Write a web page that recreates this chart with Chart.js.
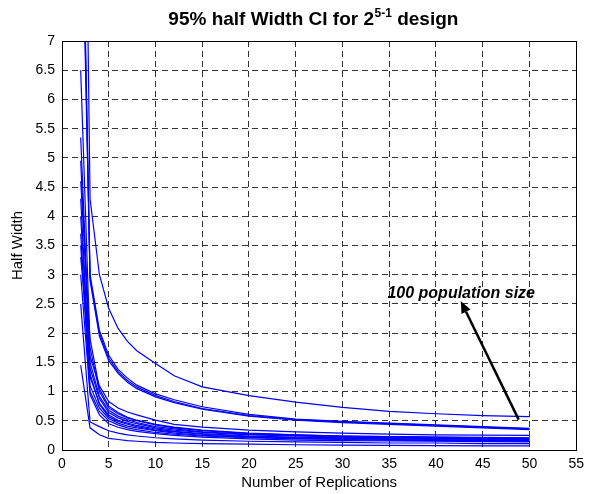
<!DOCTYPE html>
<html>
<head>
<meta charset="utf-8">
<script src="https://cdn.jsdelivr.net/npm/chart.js@4.4.0/dist/chart.umd.min.js"></script>
<style>
  html, body { margin: 0; padding: 0; background: #fff; }
  #wrap { width: 590px; height: 494px; }
</style>
</head>
<body>
<div id="wrap"><canvas id="hwChart" width="590" height="494"></canvas></div>
<script>
// Replication counts at which the half width was recorded
const replications = [2, 3, 4, 5, 6, 7, 8, 10, 12, 15, 20, 25, 30, 35, 40, 45, 50];

// 95% CI half width, one array per design point (16 runs of the 2^(5-1) design)
const run01 = [17.0, 4.30, 3.00, 2.42, 2.08, 1.86, 1.70, 1.48, 1.27, 1.08, 0.93, 0.82, 0.73, 0.66, 0.62, 0.59, 0.57];
const run02 = [10.8, 3.00, 2.05, 1.62, 1.38, 1.23, 1.11, 0.96, 0.86, 0.74, 0.61, 0.53, 0.49, 0.46, 0.43, 0.40, 0.37];
const run03 = [11.3, 2.95, 2.00, 1.57, 1.34, 1.19, 1.08, 0.93, 0.83, 0.71, 0.59, 0.52, 0.48, 0.45, 0.42, 0.39, 0.36];
const run04 = [10.4, 2.90, 1.95, 1.53, 1.31, 1.16, 1.05, 0.91, 0.81, 0.70, 0.58, 0.51, 0.47, 0.44, 0.41, 0.38, 0.35];
const run05 = [3.30, 1.60, 1.10, 0.83, 0.72, 0.65, 0.60, 0.51, 0.44, 0.39, 0.34, 0.31, 0.29, 0.27, 0.26, 0.255, 0.25];
const run06 = [6.50, 1.75, 1.00, 0.72, 0.62, 0.55, 0.50, 0.43, 0.38, 0.33, 0.28, 0.26, 0.24, 0.23, 0.22, 0.215, 0.21];
const run07 = [5.35, 1.50, 0.92, 0.68, 0.58, 0.52, 0.47, 0.40, 0.36, 0.31, 0.27, 0.25, 0.23, 0.22, 0.21, 0.20, 0.20];
const run08 = [4.95, 1.40, 0.88, 0.64, 0.55, 0.49, 0.45, 0.38, 0.34, 0.30, 0.26, 0.24, 0.22, 0.21, 0.20, 0.19, 0.19];
const run09 = [4.60, 1.90, 1.05, 0.75, 0.64, 0.56, 0.51, 0.44, 0.39, 0.34, 0.29, 0.26, 0.24, 0.23, 0.22, 0.21, 0.20];
const run10 = [4.30, 1.25, 0.80, 0.60, 0.51, 0.46, 0.42, 0.36, 0.32, 0.28, 0.24, 0.22, 0.21, 0.20, 0.19, 0.18, 0.18];
const run11 = [4.00, 1.30, 0.78, 0.57, 0.49, 0.44, 0.40, 0.34, 0.31, 0.27, 0.23, 0.21, 0.20, 0.19, 0.18, 0.17, 0.17];
const run12 = [3.70, 1.10, 0.72, 0.54, 0.46, 0.41, 0.38, 0.33, 0.29, 0.25, 0.22, 0.20, 0.19, 0.18, 0.17, 0.165, 0.16];
const run13 = [3.50, 1.00, 0.66, 0.50, 0.43, 0.38, 0.35, 0.30, 0.27, 0.24, 0.21, 0.19, 0.18, 0.17, 0.16, 0.155, 0.15];
const run14 = [3.00, 0.95, 0.60, 0.45, 0.39, 0.35, 0.32, 0.28, 0.25, 0.22, 0.19, 0.17, 0.16, 0.155, 0.15, 0.145, 0.14];
const run15 = [2.50, 0.48, 0.40, 0.33, 0.29, 0.26, 0.24, 0.21, 0.19, 0.17, 0.15, 0.14, 0.13, 0.12, 0.12, 0.11, 0.11];
const run16 = [1.45, 0.38, 0.26, 0.20, 0.18, 0.16, 0.15, 0.13, 0.12, 0.11, 0.10, 0.09, 0.085, 0.08, 0.075, 0.07, 0.07];

const runs = [run01, run02, run03, run04, run05, run06, run07, run08,
              run09, run10, run11, run12, run13, run14, run15, run16];

// axis limits / tick steps
const xMin = 0, xMax = 55, xStep = 5;
const yMin = 0, yMax = 7, yStep = 0.5;

// annotation (data coordinates)
const noteText = '100 population size';
const noteAt = { x: 42.7, y: 2.68 };
const arrowFrom = { x: 48.85, y: 0.52 };
const arrowTo = { x: 42.65, y: 2.55 };

const fontFamily = "'Liberation Sans', Arial, Helvetica, sans-serif";

const datasets = runs.map((run, i) => ({
    label: 'Run ' + (i + 1),
    data: run.map((v, j) => ({ x: replications[j], y: v })),
    borderColor: '#0000ff',
    backgroundColor: '#0000ff',
    borderWidth: 1.2,
    pointRadius: 0,
    tension: 0,
    fill: false
}));

// box around the axes, title with superscript, arrow note
const matlabDecor = {
    id: 'matlabDecor',
    afterDraw(chart) {
        const { ctx, chartArea: a, scales: { x, y } } = chart;
        ctx.save();

        // axes box
        ctx.strokeStyle = '#000';
        ctx.lineWidth = 1;
        ctx.strokeRect(Math.round(a.left) + 0.5, Math.round(a.top) + 0.5,
            Math.round(a.right - a.left), Math.round(a.bottom - a.top));

        // arrow
        const x0 = x.getPixelForValue(arrowFrom.x), y0 = y.getPixelForValue(arrowFrom.y);
        const x1 = x.getPixelForValue(arrowTo.x), y1 = y.getPixelForValue(arrowTo.y);
        const ang = Math.atan2(y1 - y0, x1 - x0);
        const headLen = 12, headW = 5;
        const bx = x1 - headLen * Math.cos(ang), by = y1 - headLen * Math.sin(ang);
        ctx.strokeStyle = '#000';
        ctx.fillStyle = '#000';
        ctx.lineWidth = 2.5;
        ctx.beginPath();
        ctx.moveTo(x0, y0);
        ctx.lineTo(bx, by);
        ctx.stroke();
        ctx.beginPath();
        ctx.moveTo(x1, y1);
        ctx.lineTo(bx + headW * Math.sin(ang), by - headW * Math.cos(ang));
        ctx.lineTo(bx - headW * Math.sin(ang), by + headW * Math.cos(ang));
        ctx.closePath();
        ctx.fill();

        // note text
        ctx.font = 'italic bold 16px ' + fontFamily;
        ctx.textAlign = 'center';
        ctx.textBaseline = 'middle';
        ctx.fillText(noteText, x.getPixelForValue(noteAt.x), y.getPixelForValue(noteAt.y));

        // title: 95% half Width CI for 2^(5-1) design
        const partA = '95% half Width CI for 2', sup = '5-1', partB = ' design';
        const mainFont = 'bold 19px ' + fontFamily, supFont = 'bold 12px ' + fontFamily;
        ctx.font = mainFont;
        const wA = ctx.measureText(partA).width, wB = ctx.measureText(partB).width;
        ctx.font = supFont;
        const wS = ctx.measureText(sup).width;
        let tx = (a.left + a.right) / 2 - (wA + wS + wB) / 2 - 6;
        const ty = 20;
        ctx.textAlign = 'left';
        ctx.textBaseline = 'middle';
        ctx.font = mainFont;
        ctx.fillText(partA, tx, ty);
        tx += wA;
        ctx.font = supFont;
        ctx.fillText(sup, tx + 0.5, ty - 6);
        tx += wS + 0.5;
        ctx.font = mainFont;
        ctx.fillText(partB, tx, ty);

        ctx.restore();
    }
};

const ctx = document.getElementById('hwChart').getContext('2d');
new Chart(ctx, {
    type: 'line',
    data: { datasets: datasets },
    options: {
        responsive: false,
        animation: false,
        layout: { padding: { top: 41, right: 10, left: 0, bottom: 0 } },
        plugins: {
            legend: { display: false },
            tooltip: { enabled: false },
            title: { display: false }
        },
        scales: {
            x: {
                type: 'linear',
                min: xMin,
                max: xMax,
                afterFit: s => { s.height = 44; },
                ticks: {
                    stepSize: xStep,
                    color: '#000',
                    padding: 6,
                    maxRotation: 0,
                    font: { size: 14, family: fontFamily }
                },
                grid: { color: '#333', lineWidth: 1, drawTicks: false },
                border: { display: false, dash: [6, 4] },
                title: {
                    display: true,
                    text: 'Number of Replications',
                    color: '#000',
                    padding: { top: 0, bottom: 2 },
                    font: { size: 15, family: fontFamily }
                }
            },
            y: {
                type: 'linear',
                min: yMin,
                max: yMax,
                afterFit: s => { s.width = 62; },
                ticks: {
                    stepSize: yStep,
                    color: '#000',
                    padding: 7,
                    font: { size: 14, family: fontFamily },
                    callback: v => String(v)
                },
                grid: { color: '#333', lineWidth: 1, drawTicks: false },
                border: { display: false, dash: [6, 4] },
                title: {
                    display: true,
                    text: 'Half Width',
                    color: '#000',
                    padding: { top: 9, bottom: 0 },
                    font: { size: 15, family: fontFamily }
                }
            }
        }
    },
    plugins: [matlabDecor]
});
</script>
</body>
</html>
